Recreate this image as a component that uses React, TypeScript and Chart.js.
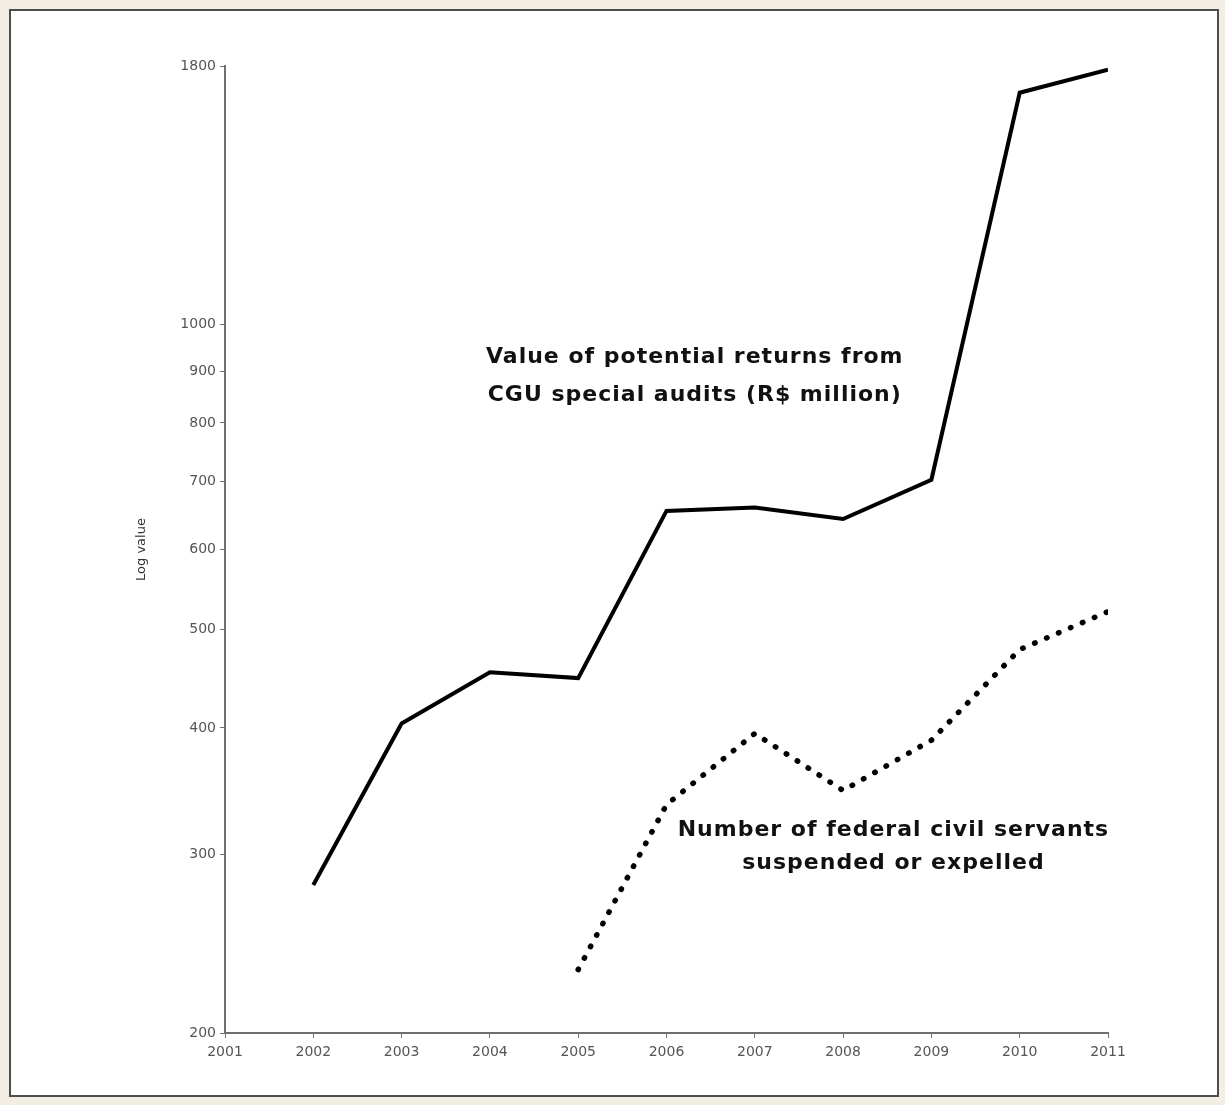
import React, { useEffect, useRef } from "react";
import { Chart, registerables } from "chart.js";

Chart.register(...registerables);

const years = [2002, 2003, 2004, 2005, 2006, 2007, 2008, 2009, 2010, 2011];
const auditReturns = [280, 404, 454, 448, 655, 660, 643, 703, 1694, 1785];
const servants: (number | null)[] = [null, null, null, 231, 336, 395, 347, 389, 478, 521];
const yTickValues = [200, 300, 400, 500, 600, 700, 800, 900, 1000, 1800];
const xMin = 2001;
const xMax = 2011;
const auditLabel = ["Value of potential returns from", "CGU special audits (R$ million)"];
const servantsLabel = ["Number of federal civil servants", "suspended or expelled"];

const W = 1225;
const H = 1105;

const textPlugin = {
  id: "annotText",
  afterDatasetsDraw(chart: any) {
    const ctx = chart.ctx;
    const x = chart.scales.x;
    const y = chart.scales.y;
    ctx.save();
    ctx.fillStyle = "#111";
    ctx.font = "bold 22px 'DejaVu Sans', sans-serif";
    (ctx as any).letterSpacing = "1px";
    ctx.textAlign = "center";
    ctx.textBaseline = "middle";
    const ax = x.getPixelForValue(2006.32);
    const ay = y.getPixelForValue(1000) + 33;
    auditLabel.forEach((t, i) => ctx.fillText(t, ax, ay + i * 38));
    const bx = x.getPixelForValue(2008.57);
    const by = y.getPixelForValue(300) - 24;
    servantsLabel.forEach((t, i) => ctx.fillText(t, bx, by + i * 33));
    ctx.restore();
  },
};

export default function App() {
  const ref = useRef<HTMLCanvasElement | null>(null);
  useEffect(() => {
    if (!ref.current) return;
    const solid = years.map((yr, i) => ({ x: yr, y: auditReturns[i] }));
    const dotted = years
      .map((yr, i) => ({ x: yr, y: servants[i] }))
      .filter((p) => p.y !== null);
    const tickFont = { family: "'DejaVu Sans', sans-serif", size: 14 };
    const chart = new Chart(ref.current, {
      type: "line",
      data: {
        datasets: [
          {
            label: "Value of potential returns",
            data: solid as any,
            borderColor: "#000",
            borderWidth: 4,
            pointRadius: 0,
            tension: 0,
            borderJoinStyle: "miter",
          },
          {
            label: "Civil servants",
            data: dotted as any,
            borderColor: "#000",
            borderWidth: 5.5,
            borderDash: [0.5, 12.5],
            borderCapStyle: "round",
            pointRadius: 0,
            tension: 0,
          },
        ],
      },
      options: {
        responsive: false,
        animation: false,
        layout: { padding: { left: 130, right: 117, top: 66, bottom: 0 } },
        plugins: { legend: { display: false }, tooltip: { enabled: false } },
        scales: {
          x: {
            type: "linear",
            min: xMin,
            max: xMax,
            afterFit: (s: any) => {
              s.height = 72;
            },
            border: { color: "#6f6f6f", width: 2 },
            grid: { drawOnChartArea: false, drawTicks: true, tickLength: 5, color: "#6f6f6f" },
            ticks: {
              stepSize: 1,
              color: "#555",
              font: tickFont,
              padding: 6,
              callback: (v: any) => String(v),
            },
          },
          y: {
            type: "logarithmic",
            min: 200,
            max: 1800,
            afterFit: (s: any) => {
              s.width = 95;
            },
            afterBuildTicks: (s: any) => {
              s.ticks = yTickValues.map((v) => ({ value: v }));
            },
            border: { color: "#6f6f6f", width: 2 },
            grid: { drawOnChartArea: false, drawTicks: true, tickLength: 5, color: "#6f6f6f" },
            ticks: {
              color: "#555",
              font: tickFont,
              padding: 4,
              autoSkip: false,
              callback: (v: any) => String(v),
            },
            title: {
              display: true,
              text: "Log value",
              color: "#333",
              font: { family: "'DejaVu Sans', sans-serif", size: 13 },
            },
          },
        },
      },
      plugins: [textPlugin],
    });
    return () => chart.destroy();
  }, []);

  return (
    <div
      style={{
        position: "absolute",
        left: 0,
        top: 0,
        width: W,
        height: H,
        background: "#f3eee3",
        overflow: "hidden",
      }}
    >
      <div
        style={{
          position: "absolute",
          left: 9,
          top: 9,
          width: 1206,
          height: 1084,
          background: "#fff",
          border: "2px solid #4d4d4d",
        }}
      />
      <canvas
        ref={ref}
        width={W}
        height={H}
        style={{ position: "absolute", left: 0, top: 0, width: W, height: H }}
      />
    </div>
  );
}
